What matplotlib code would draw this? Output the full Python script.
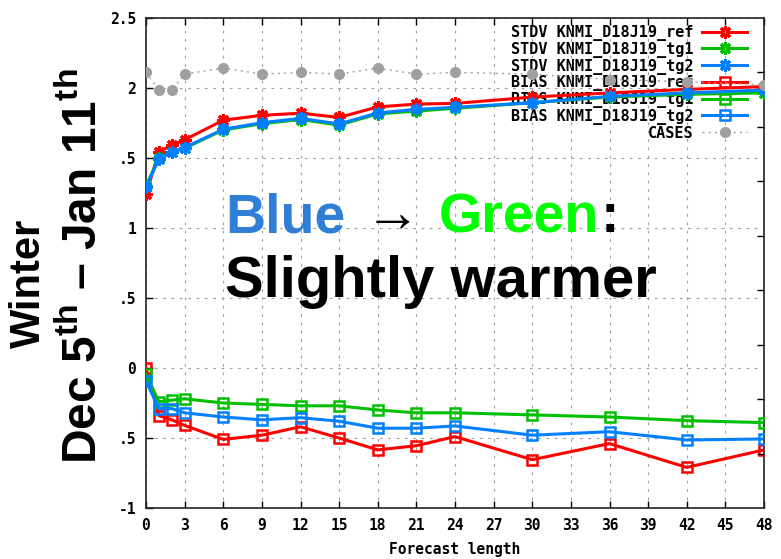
import matplotlib
matplotlib.use("Agg")
import matplotlib.pyplot as plt

# ---------------- data ----------------
hours = [0, 1, 2, 3, 6, 9, 12, 15, 18, 21, 24, 30, 36, 42, 48]

stdv_ref = [1.24, 1.545, 1.59, 1.63, 1.77, 1.805, 1.82, 1.79, 1.865, 1.885, 1.89, 1.935, 1.965, 1.99, 2.01]
stdv_tg1 = [1.30, 1.50, 1.54, 1.57, 1.70, 1.745, 1.775, 1.735, 1.815, 1.835, 1.855, 1.895, 1.935, 1.955, 1.965]
stdv_tg2 = [1.295, 1.49, 1.54, 1.575, 1.705, 1.752, 1.783, 1.743, 1.822, 1.847, 1.862, 1.895, 1.94, 1.965, 1.985]

bias_ref = [0.0, -0.34, -0.37, -0.41, -0.51, -0.48, -0.42, -0.50, -0.585, -0.555, -0.49, -0.655, -0.54, -0.71, -0.585]
bias_tg1 = [-0.045, -0.24, -0.23, -0.22, -0.25, -0.26, -0.27, -0.27, -0.30, -0.32, -0.32, -0.335, -0.35, -0.376, -0.39]
bias_tg2 = [-0.093, -0.29, -0.29, -0.32, -0.35, -0.37, -0.355, -0.38, -0.43, -0.43, -0.414, -0.48, -0.455, -0.514, -0.507]

cases = [800, 767, 767, 797, 808, 797, 800, 797, 808, 797, 800, 797, 787, 783, 777]

series_labels = ["STDV KNMI_D18J19_ref", "STDV KNMI_D18J19_tg1", "STDV KNMI_D18J19_tg2",
                 "BIAS KNMI_D18J19_ref", "BIAS KNMI_D18J19_tg1", "BIAS KNMI_D18J19_tg2"]
cases_label = "CASES"

x_ticks = list(range(0, 49, 3))
y_ticks = [-1, -0.5, 0, 0.5, 1, 1.5, 2, 2.5]
y_ticklabels = ["-1", ".5", "0", ".5", "1", ".5", "2", "2.5"]
y2_ticks = [100, 200, 300, 400, 500, 600, 700, 800]

xlabel = "Forecast length"
title_line1 = "Winter"
title_line2 = "Dec 5$^{\\mathdefault{th}}$ \u2013 Jan 11$^{\\mathdefault{th}}$"

# ---------------- style ----------------
RED = "#ff0000"
GREEN = "#00c000"
BLUE = "#0080ff"
GRAY = "#a0a0a0"
MONO = "DejaVu Sans Mono"
SANS = ["Liberation Sans", "DejaVu Sans"]

plt.rcParams["mathtext.fontset"] = "custom"
plt.rcParams["mathtext.rm"] = "Liberation Sans:bold"
plt.rcParams["mathtext.bf"] = "Liberation Sans:bold"

W, H = 781, 559
fig = plt.figure(figsize=(W / 100, H / 100), dpi=100)
L, R, T, B = 146, 764, 18, 508
ax = fig.add_axes([L / W, 1 - B / H, (R - L) / W, (B - T) / H])
ax.set_xlim(0, 48)
ax.set_ylim(-1, 2.5)

ax.set_xticks(x_ticks)
ax.set_yticks(y_ticks)
ax.set_yticklabels(y_ticklabels)
ax.tick_params(axis="both", direction="in", length=5, width=1, labelsize=10.5,
               top=True, right=False)
ax.tick_params(axis="x", pad=7)
ax.tick_params(axis="y", pad=7)
for lab in ax.get_xticklabels() + ax.get_yticklabels():
    lab.set_fontfamily(MONO)
    lab.set_fontweight("bold")
ax.grid(True, color=GRAY, linestyle=(0, (2.5, 5)), linewidth=0.8)
for s in ax.spines.values():
    s.set_linewidth(1.2)
    s.set_color("#222222")

ax.set_xlabel(xlabel, fontfamily=MONO, fontweight="bold", fontsize=10.5, labelpad=7)

lw = 2.2
star = (8, 2, 0)
handles = []
for vals, col in [(stdv_ref, RED), (stdv_tg1, GREEN), (stdv_tg2, BLUE)]:
    h, = ax.plot(hours, vals, color=col, lw=lw, marker=star, markersize=9,
                 markeredgewidth=2.2, markeredgecolor=col, zorder=3)
    handles.append(h)
for vals, col in [(bias_ref, RED), (bias_tg1, GREEN), (bias_tg2, BLUE)]:
    h, = ax.plot(hours, vals, color=col, lw=lw, marker="s", markersize=7.5,
                 markerfacecolor="none", markeredgewidth=1.8, markeredgecolor=col, zorder=3)
    handles.append(h)

ax2 = ax.twinx()
ax2.set_ylim(0, 900)
ax2.set_yticks(y2_ticks)
ax2.set_yticklabels([])
ax2.tick_params(axis="y", direction="in", length=5, width=1, right=True)
for s in ax2.spines.values():
    s.set_visible(False)
hc, = ax2.plot(hours, cases, color=GRAY, lw=1.0, linestyle=(0, (1.5, 3)),
               marker="o", markersize=7, markerfacecolor=GRAY, markeredgecolor=GRAY)
handles.append(hc)

leg = ax.legend(handles, series_labels + [cases_label], loc="upper right",
                bbox_to_anchor=(1 - 17 / (R - L), 1 - 7 / (B - T)),
                markerfirst=False, frameon=False, borderpad=0, borderaxespad=0,
                handlelength=2.95, handletextpad=0.6, labelspacing=0.05,
                prop={"family": MONO, "weight": "bold", "size": 10.9})
leg.set_zorder(1)

# ---------------- overlay texts ----------------
base1 = 1 - 232 / H
t1 = fig.text(225 / W, base1, "Blue", color="#2e7fd5", fontweight="bold",
              va="baseline", ha="left", family=SANS, size=40)
t2 = fig.text(0, base1, "\u2192", color="black", fontweight="normal",
              va="baseline", ha="left", family=SANS, size=40)
t3 = fig.text(0, base1, "Green", color="#00ff00", fontweight="bold",
              va="baseline", ha="left", family=SANS, size=40)
t4 = fig.text(0, base1, ":", color="black", fontweight="bold",
              va="baseline", ha="left", family=SANS, size=40)
fig.text(225 / W, 1 - 297 / H, "Slightly warmer", color="black", fontweight="bold",
         va="baseline", ha="left", family=SANS, size=41.8)

fig.canvas.draw()
r = fig.canvas.get_renderer()
gaps = [19, 19, 2]
prev = t1
for t, g in zip((t2, t3, t4), gaps):
    bb = prev.get_window_extent(r)
    t.set_position(((bb.x1 + g) / W, base1))
    fig.canvas.draw()
    prev = t

fig.text(29 / W, 1 - 283 / H, title_line1, rotation=90, ha="center", va="center",
         family=SANS, fontweight="bold", fontsize=30)
fig.text(84 / W, 1 - 266 / H, title_line2, rotation=90, ha="center", va="center",
         family=SANS, fontweight="bold", fontsize=34.5)

fig.savefig("out.png", dpi=100)
